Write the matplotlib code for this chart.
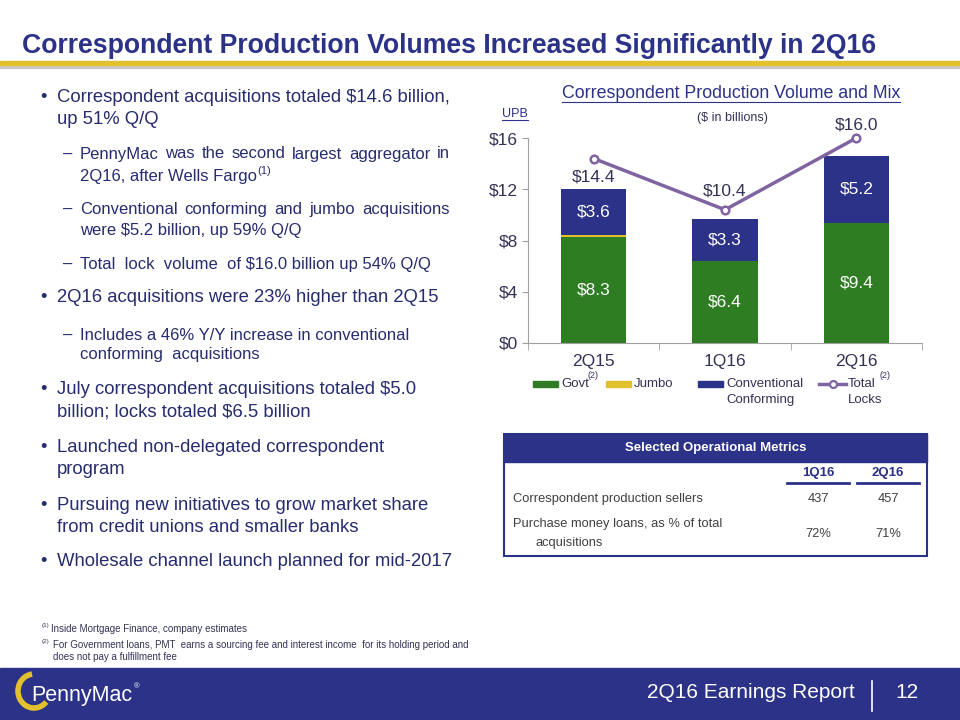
import matplotlib
matplotlib.use('Agg')
import matplotlib.pyplot as plt
from matplotlib.patches import Rectangle, Arc
from matplotlib.lines import Line2D
import numpy as np

plt.rcParams['font.family'] = ['Liberation Sans', 'DejaVu Sans']
plt.rcParams['text.parse_math'] = False

# chart data ($ in billions)
quarters = ['2Q15', '1Q16', '2Q16']
govt = [8.3, 6.4, 9.4]
jumbo = [0.1, 0.0, 0.0]
conventional = [3.6, 3.3, 5.2]
total_locks = [14.4, 10.4, 16.0]

# table data
metric_cols = ['1Q16', '2Q16']
metric_rows = ['Correspondent production sellers',
               'Purchase money loans, as % of total']
sellers = ['437', '457']
purchase_pct = ['72%', '71%']

NAVY = '#2B3287'
GREEN = '#2E7D23'
GOLD = '#E2C02E'
PURPLE = '#8064A2'
TEXT = '#262C6E'
GRAY = '#404040'

W, H = 960, 720
fig = plt.figure(figsize=(9.6, 7.2), dpi=100)


def fx(px):
    return px / W


def fy(py):
    return 1 - py / H


def ftext(x, y, s, **kw):
    kw.setdefault('va', 'center')
    return fig.text(fx(x), fy(y), s, **kw)


renderer = fig.canvas.get_renderer()

# title + gold rule
ftext(22, 46, 'Correspondent Production Volumes Increased Significantly in 2Q16',
      fontsize=19.2, fontweight='bold', color=NAVY)
fig.patches.append(Rectangle((0, fy(68)), 1, 3 / H, transform=fig.transFigure,
                             color='#C8C8C8', zorder=1))
fig.patches.append(Rectangle((0, fy(65)), 1, 4 / H, transform=fig.transFigure,
                             color=GOLD, zorder=2))

# left bullet text
lines = [
    ('b', 'Correspondent acquisitions totaled $14.6 billion,', 97),
    ('c', 'up 51% Q/Q', 120),
    ('j', 'PennyMac was the second largest aggregator in', 154),
    ('sc', '2Q16, after Wells Fargo', 176),
    ('j', 'Conventional conforming and jumbo acquisitions', 209),
    ('sc', 'were $5.2 billion, up 59% Q/Q', 231),
    ('s', 'Total  lock  volume  of $16.0 billion up 54% Q/Q', 264),
    ('b', '2Q16 acquisitions were 23% higher than 2Q15', 298),
    ('s', 'Includes a 46% Y/Y increase in conventional', 335),
    ('sc', 'conforming  acquisitions', 355),
    ('b', 'July correspondent acquisitions totaled $5.0', 390),
    ('c', 'billion; locks totaled $6.5 billion', 412),
    ('b', 'Launched non-delegated correspondent', 448),
    ('c', 'program', 470),
    ('b', 'Pursuing new initiatives to grow market share', 505),
    ('c', 'from credit unions and smaller banks', 528),
    ('b', 'Wholesale channel launch planned for mid-2017', 562),
]
main_fs, sub_fs = 13.3, 12
for kind, s, y in lines:
    if kind in ('b', 'c'):
        if kind == 'b':
            ftext(40, y, '\u2022', fontsize=main_fs, color=TEXT)
        ftext(57, y, s, fontsize=main_fs, color=TEXT)
    else:
        if kind in ('s', 'j'):
            ftext(63, y, '\u2013', fontsize=sub_fs, color=TEXT)
        if kind == 'j':
            # spread words across the column like a justified paragraph
            words = s.split()
            ts = [ftext(80, y, w_, fontsize=sub_fs, color=TEXT) for w_ in words]
            widths = [t.get_window_extent(renderer).width for t in ts]
            gap = (450 - 80 - sum(widths)) / (len(words) - 1)
            xpos = 80
            for t, wd in zip(ts, widths):
                t.set_x(fx(xpos))
                xpos += wd + gap
        else:
            t = ftext(80, y, s, fontsize=sub_fs, color=TEXT)
            if s.endswith('Wells Fargo'):
                x1 = t.get_window_extent(renderer).x1
                fig.text(x1 / W, fy(171), '(1)', fontsize=8, color=TEXT, va='center')

# chart
ax = fig.add_axes([fx(528), fy(343), 394 / W, 205 / H])
x = np.arange(len(quarters))
g = np.array(govt)
j = np.array(jumbo)
c = np.array(conventional)
ax.bar(x, g, width=0.5, color=GREEN, zorder=2)
ax.bar(x, j, width=0.5, bottom=g, color=GOLD, zorder=2)
ax.bar(x, c, width=0.5, bottom=g + j, color=NAVY, zorder=2)
ax.plot(x, total_locks, color=PURPLE, lw=2.5, marker='o', ms=5.5, mfc='white',
        mec=PURPLE, mew=1.8, zorder=3, clip_on=False)

for i in range(len(quarters)):
    ax.text(x[i], g[i] / 2, f'${govt[i]:.1f}', color='white', fontsize=12.5,
            ha='center', va='center', zorder=4)
    ax.text(x[i], g[i] + j[i] + c[i] / 2, f'${conventional[i]:.1f}', color='white',
            fontsize=12.5, ha='center', va='center', zorder=4)
lock_offsets = [-1.45, 1.45, 1.0]
for i, v in enumerate(total_locks):
    ax.text(x[i], v + lock_offsets[i], f'${v:.1f}', color='#333355', fontsize=12.5,
            ha='center', va='center', zorder=4, clip_on=False)

ax.set_xlim(-0.5, 2.5)
ax.set_ylim(0, 16)
ax.set_yticks([0, 4, 8, 12, 16])
ax.set_yticklabels([f'${v}' for v in [0, 4, 8, 12, 16]])
ax.set_xticks(x)
ax.set_xticklabels(quarters)
ax.set_xticks([-0.5, 0.5, 1.5, 2.5], minor=True)
ax.tick_params(axis='x', which='major', length=0, pad=8, labelsize=12.5, labelcolor='#333355')
ax.tick_params(axis='x', which='minor', length=5, color='#A0A0A0')
ax.tick_params(axis='y', length=4, color='#A0A0A0', labelsize=12.5, labelcolor='#333355', pad=3)
for side in ['top', 'right']:
    ax.spines[side].set_visible(False)
for side in ['left', 'bottom']:
    ax.spines[side].set_color('#A0A0A0')
ax.patch.set_alpha(0)

# chart titles
t = ftext(731, 94, 'Correspondent Production Volume and Mix', fontsize=12.8,
          color=NAVY, ha='center')
bb = t.get_window_extent(renderer)
fig.add_artist(Line2D([bb.x0 / W, bb.x1 / W], [fy(102), fy(102)], color=NAVY, lw=0.8))
t = ftext(515, 114, 'UPB', fontsize=9, color=NAVY, ha='center')
bb = t.get_window_extent(renderer)
fig.add_artist(Line2D([bb.x0 / W, bb.x1 / W], [fy(120), fy(120)], color=NAVY, lw=0.8))
ftext(732, 118, '($ in billions)', fontsize=9, color='#333355', ha='center')

# legend
leg_fs = 9.5
leg_col = '#333355'
for x0, col in [(533, GREEN), (606, GOLD), (698, NAVY)]:
    fig.patches.append(Rectangle((fx(x0), fy(387)), 25 / W, 6 / H,
                                 transform=fig.transFigure, color=col))
fig.add_artist(Line2D([fx(819), fx(846)], [fy(384), fy(384)], color=PURPLE, lw=2.5))
fig.add_artist(Line2D([fx(832.5)], [fy(384)], color=PURPLE, marker='o', ms=5,
                      mfc='white', mew=1.6))
ftext(561, 384, 'Govt', fontsize=leg_fs, color=leg_col)
ftext(588, 376, '(2)', fontsize=6.5, color=leg_col)
ftext(634, 384, 'Jumbo', fontsize=leg_fs, color=leg_col)
ftext(726, 384, 'Conventional', fontsize=leg_fs, color=leg_col)
ftext(726, 400, 'Conforming', fontsize=leg_fs, color=leg_col)
ftext(848, 384, 'Total', fontsize=leg_fs, color=leg_col)
ftext(879, 376, '(2)', fontsize=6.5, color=leg_col)
ftext(848, 400, 'Locks', fontsize=leg_fs, color=leg_col)

# metrics table
fig.patches.append(Rectangle((fx(504), fy(556)), 423 / W, 122 / H,
                             transform=fig.transFigure, fill=False, ec=NAVY, lw=1.5))
fig.patches.append(Rectangle((fx(504), fy(462)), 423 / W, 28 / H,
                             transform=fig.transFigure, color=NAVY))
ftext(716, 448, 'Selected Operational Metrics', fontsize=9.5, fontweight='bold',
      color='white', ha='center')
col_x = [818, 888]
for cx, lab in zip(col_x, metric_cols):
    ftext(cx, 473, lab, fontsize=9.5, fontweight='bold', color=NAVY, ha='center')
    fig.add_artist(Line2D([fx(cx - 31), fx(cx + 31)], [fy(483), fy(483)],
                          color=NAVY, lw=2))
ftext(513, 499, metric_rows[0], fontsize=9.3, color=GRAY)
ftext(513, 524, metric_rows[1], fontsize=9.3, color=GRAY)
ftext(536, 543, 'acquisitions', fontsize=9.3, color=GRAY)
for cx, a, b in zip(col_x, sellers, purchase_pct):
    ftext(cx, 499, a, fontsize=9.3, color=GRAY, ha='center')
    ftext(cx, 534, b, fontsize=9.3, color=GRAY, ha='center')

# footnotes
fn_col = '#333355'
ftext(42, 626, '(1)', fontsize=4.5, color=fn_col)
ftext(51, 629, 'Inside Mortgage Finance, company estimates', fontsize=7, color=fn_col)
ftext(42, 642, '(2)', fontsize=4.5, color=fn_col)
ftext(53, 645, 'For Government loans, PMT  earns a sourcing fee and interest income  '
      'for its holding period and', fontsize=7, color=fn_col)
ftext(53, 657, 'does not pay a fulfillment fee', fontsize=7, color=fn_col)

# footer band
fig.patches.append(Rectangle((0, 0), 1, 52 / H, transform=fig.transFigure,
                             color=NAVY, zorder=0))
ftext(855, 693, '2Q16 Earnings Report', fontsize=15, color='white', ha='right')
fig.add_artist(Line2D([fx(872), fx(872)], [fy(711), fy(681)], color='white', lw=1.2))
ftext(907, 693, '12', fontsize=15, color='white', ha='center')

# logo
fig.patches.append(Arc((fx(34), fy(691)), 32 / W, 34 / H, theta1=95, theta2=310,
                       transform=fig.transFigure, color=GOLD, lw=4))
ftext(31, 696, 'PennyMac', fontsize=15.5, color='white')
ftext(134, 687, '\u00ae', fontsize=5.5, color='white')

fig.savefig('out.png', dpi=100)
